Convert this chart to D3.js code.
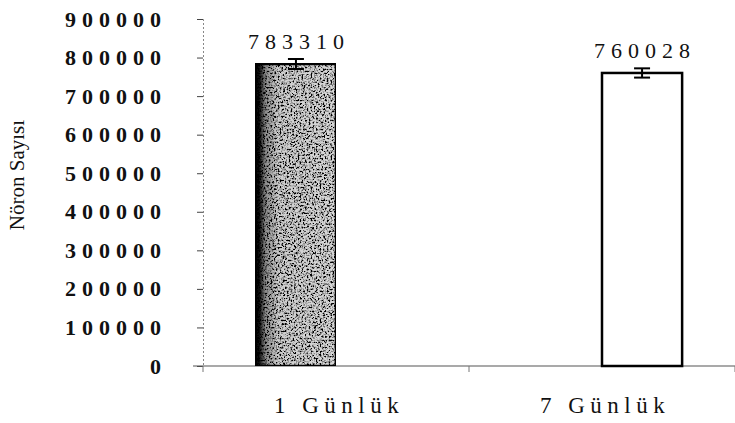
<!DOCTYPE html>
<html lang="tr">
<head>
<meta charset="UTF-8">
<title>Nöron Sayısı</title>
<style>
  body { margin: 0; background: #fff; }
  svg { display: block; }
  text { font-family: "Liberation Serif", "Times New Roman", serif; fill: #111; }
</style>
</head>
<body>
<div id="chart"></div>
<script src="https://d3js.org/d3.v7.min.js"></script>
<script>
const categories = ["1 Günlük", "7 Günlük"]
const seriesNames = ["1 Günlük", "7 Günlük"]
const values = [783310, 760028]
const errors = [13000, 12000]
const yTicks = [0, 100000, 200000, 300000, 400000, 500000, 600000, 700000, 800000, 900000]

const W = 735, H = 423
const margin = {top: 19, right: 0, bottom: 57, left: 203}

const svg = d3.select('#chart').append('svg')
  .attr('width', W)
  .attr('height', H)

// textured fill for the first bar: dark left edge, speckled light grey
const defs = svg.append('defs')
const grad = defs.append('linearGradient').attr('id', 'grey').attr('x1', 0).attr('x2', 1)
grad.append('stop').attr('offset', '0%').attr('stop-color', '#000')
grad.append('stop').attr('offset', '5%').attr('stop-color', '#1a1a1a')
grad.append('stop').attr('offset', '12%').attr('stop-color', '#8a8a8a')
grad.append('stop').attr('offset', '28%').attr('stop-color', '#cfcfcf')
grad.append('stop').attr('offset', '100%').attr('stop-color', '#d8d8d8')

const speck = defs.append('filter').attr('id', 'speck')
  .attr('x', 0).attr('y', 0).attr('width', 1).attr('height', 1)
speck.append('feTurbulence').attr('type', 'fractalNoise')
  .attr('baseFrequency', 0.55).attr('numOctaves', 3).attr('seed', 7).attr('result', 'noise')
speck.append('feColorMatrix').attr('in', 'noise').attr('type', 'matrix')
  .attr('values', '0 0 0 0 0  0 0 0 0 0  0 0 0 0 0  0 0 0 -4 2.3')
  .attr('result', 'dots')
speck.append('feComposite').attr('in', 'dots').attr('in2', 'SourceGraphic')
  .attr('operator', 'in').attr('result', 'dotsIn')
speck.append('feMerge').call(m => {
  m.append('feMergeNode').attr('in', 'SourceGraphic')
  m.append('feMergeNode').attr('in', 'dotsIn')
})

const x0 = d3.scaleBand()
  .domain(categories)
  .range([margin.left, W - margin.right])

const x1 = d3.scaleBand()
  .domain(seriesNames)
  .range([0, x0.bandwidth()])
  .paddingOuter(0.66)

const y = d3.scaleLinear()
  .domain([0, 900000])
  .range([H - margin.bottom, margin.top])

const bars = categories.map((c, i) => ({cat: c, ser: seriesNames[i], value: values[i], err: errors[i], i: i}))

// y axis
const yAxis = svg.append('g')
  .attr('transform', `translate(${margin.left},0)`)
  .call(d3.axisLeft(y).tickValues(yTicks).tickSize(6).tickPadding(30).tickFormat(d3.format('d')))
yAxis.select('.domain').attr('stroke', '#888').attr('stroke-dasharray', '2,2')
yAxis.selectAll('.tick line').attr('stroke', '#444')
yAxis.selectAll('.tick text')
  .style('font-size', '22px')
  .style('font-weight', 'bold')
  .style('letter-spacing', '6px')
  .attr('fill', '#111')

// x axis
const baseY = y(0)
svg.append('line')
  .attr('x1', margin.left - 10).attr('x2', W)
  .attr('y1', baseY).attr('y2', baseY)
  .attr('stroke', '#555').attr('stroke-width', 1.2)

const bounds = [margin.left].concat(categories.map(c => x0(c) + x0.bandwidth()))
svg.append('g').selectAll('line')
  .data(bounds)
  .join('line')
    .attr('x1', d => d).attr('x2', d => d)
    .attr('y1', baseY).attr('y2', baseY + 6)
    .attr('stroke', '#777')

svg.append('g').selectAll('text')
  .data(categories)
  .join('text')
    .attr('x', d => x0(d) + x0.bandwidth() / 2 + 3)
    .attr('y', 413)
    .attr('text-anchor', 'middle')
    .style('font-size', '23px')
    .style('letter-spacing', '5.5px')
    .text(d => d)

// bars
svg.append('g').selectAll('rect')
  .data(bars)
  .join('rect')
    .attr('x', d => x0(d.cat) + x1(d.ser))
    .attr('width', x1.bandwidth())
    .attr('y', d => y(d.value))
    .attr('height', d => y(0) - y(d.value))
    .attr('fill', d => d.i === 0 ? 'url(#grey)' : '#fff')
    .attr('filter', d => d.i === 0 ? 'url(#speck)' : null)
    .attr('stroke', '#000')
    .attr('stroke-width', 2.5)

// error bars
const eb = svg.append('g').selectAll('g')
  .data(bars)
  .join('g')
    .attr('stroke', '#000')
    .attr('stroke-width', 2)
eb.append('line')
  .attr('x1', d => x0(d.cat) + x1(d.ser) + x1.bandwidth() / 2)
  .attr('x2', d => x0(d.cat) + x1(d.ser) + x1.bandwidth() / 2)
  .attr('y1', d => y(d.value + d.err))
  .attr('y2', d => y(d.value - d.err))
eb.selectAll('line.cap')
  .data(d => [{d: d, v: d.value + d.err}, {d: d, v: d.value - d.err}])
  .join('line')
    .attr('class', 'cap')
    .attr('x1', e => x0(e.d.cat) + x1(e.d.ser) + x1.bandwidth() / 2 - 8)
    .attr('x2', e => x0(e.d.cat) + x1(e.d.ser) + x1.bandwidth() / 2 + 8)
    .attr('y1', e => y(e.v))
    .attr('y2', e => y(e.v))

// value labels
svg.append('g').selectAll('text')
  .data(bars)
  .join('text')
    .attr('x', d => x0(d.cat) + x1(d.ser) + x1.bandwidth() / 2 + 3)
    .attr('y', d => y(d.value + d.err) - 10)
    .attr('text-anchor', 'middle')
    .style('font-size', '22px')
    .style('letter-spacing', '6px')
    .text(d => d.value)

// y title
svg.append('text')
  .attr('transform', `translate(24,${175}) rotate(-90)`)
  .attr('text-anchor', 'middle')
  .style('font-size', '21px')
  .text('Nöron Sayısı')
</script>
</body>
</html>
